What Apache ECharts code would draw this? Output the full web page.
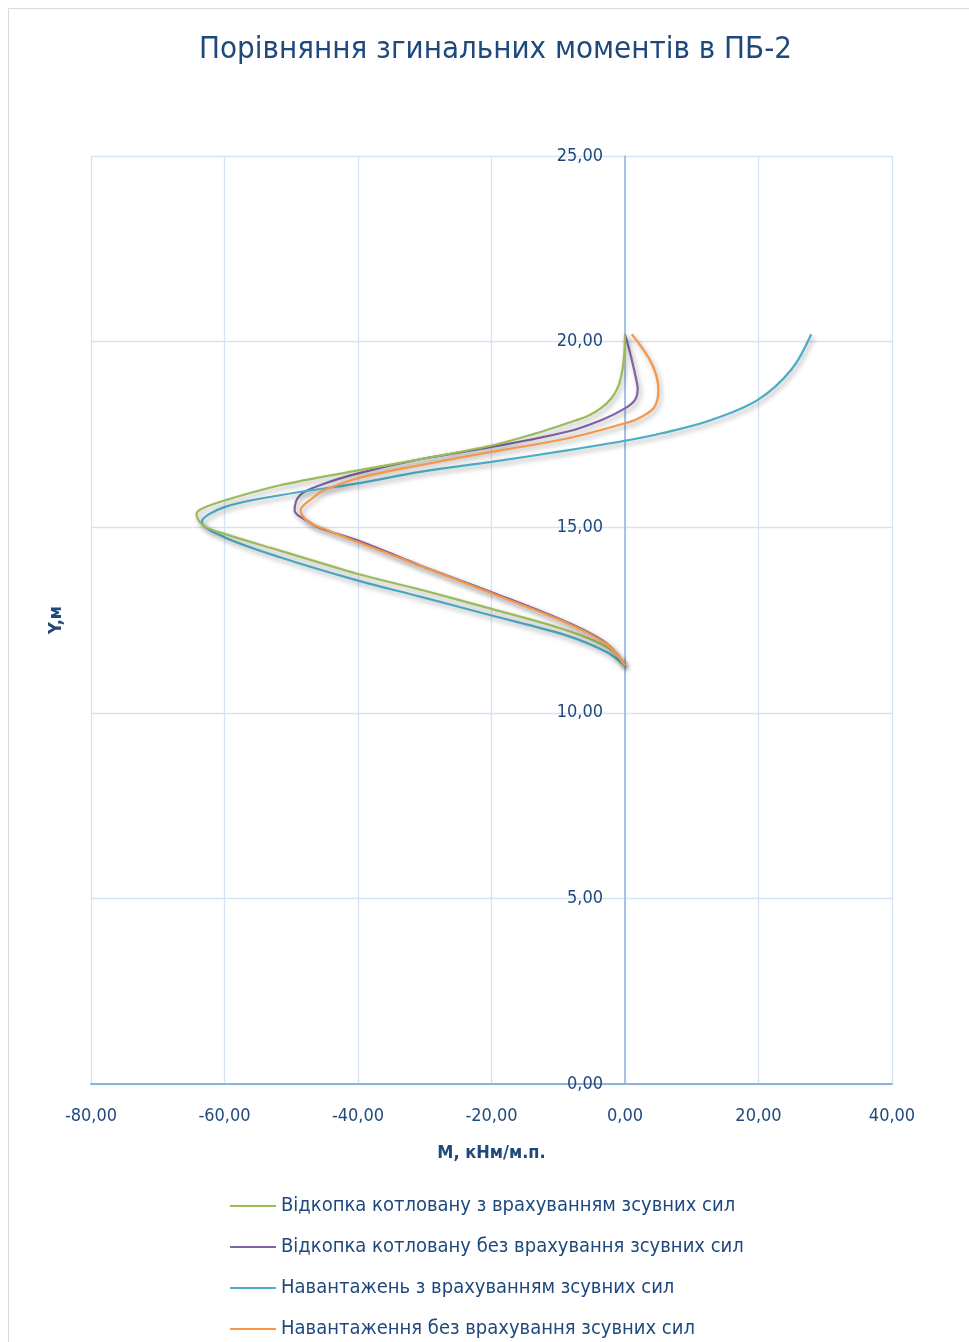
<!DOCTYPE html>
<html>
<head>
<meta charset="utf-8">
<script src="https://cdn.jsdelivr.net/npm/echarts@6/dist/echarts.min.js"></script>
<style>
html,body{margin:0;padding:0;background:#fff;}
#chart{width:969px;height:1342px;}
</style>
</head>
<body>
<div id="chart"></div>
<script>
// ---- data (M, кНм/м.п. ; Y, м) ----
const titleText = 'Порівняння згинальних моментів в ПБ-2';
const xName = 'М, кНм/м.п.';
const yName = 'Y,м';
const seriesNames = [
  'Відкопка котловану з врахуванням зсувних сил',
  'Відкопка котловану без врахування зсувних сил',
  'Навантажень з врахуванням зсувних сил',
  'Навантаження без врахування зсувних сил'
];
const seriesColors = ['#9BBB59', '#8064A2', '#4BACC6', '#F79646'];

const greenM = [0.0, -0.1, -0.4, -1.0, -2.0, -3.5, -5.5, -8.7, -13.5, -20.0, -30.7, -40.0, -51.7, -60.0, -63.4, -64.2, -63.2, -60.0, -51.7, -40.0, -30.7, -20.0, -8.7, -2.7, -0.5, 0.0];
const greenY = [20.2, 19.7, 19.23, 18.8, 18.48, 18.22, 18.0, 17.8, 17.52, 17.2, 16.83, 16.53, 16.13, 15.72, 15.5, 15.35, 15.05, 14.82, 14.37, 13.74, 13.32, 12.8, 12.22, 11.77, 11.42, 11.27];

const purpleM = [0.0, 0.9, 1.8, 1.9, 1.5, 0.0, -3.5, -8.7, -20.0, -30.7, -40.0, -45.7, -48.7, -49.5, -47.7, -45.7, -40.0, -33.7, -30.7, -20.0, -8.7, -2.7, 0.0];
const purpleY = [20.2, 19.6, 18.88, 18.72, 18.43, 18.2, 17.89, 17.57, 17.16, 16.83, 16.45, 16.13, 15.86, 15.45, 15.18, 14.98, 14.64, 14.19, 13.97, 13.25, 12.44, 11.86, 11.27];

const blueM = [27.9, 24.9, 19.9, 12.95, 5.5, 0.0, -8.7, -20.0, -30.7, -40.0, -51.7, -60.0, -63.4, -60.0, -51.7, -40.0, -30.7, -20.0, -8.7, -2.7, 0.0];
const blueY = [20.2, 19.24, 18.43, 17.89, 17.53, 17.33, 17.07, 16.76, 16.49, 16.18, 15.86, 15.54, 15.14, 14.73, 14.19, 13.56, 13.13, 12.62, 12.08, 11.63, 11.27];

const orangeM = [1.0, 4.0, 5.0, 4.9, 4.25, 2.0, 0.0, -8.7, -20.0, -30.7, -40.0, -45.0, -46.7, -48.6, -47.5, -45.7, -40.0, -33.7, -20.0, -8.7, -2.7, 0.0];
const orangeY = [20.2, 19.41, 18.7, 18.48, 18.2, 17.93, 17.8, 17.39, 17.03, 16.67, 16.32, 16.0, 15.8, 15.45, 15.15, 15.0, 14.6, 14.17, 13.22, 12.42, 11.84, 11.27];

const xMin = -80, xMax = 40, xStep = 20;
const yMin = 0, yMax = 25, yStep = 5;

const seriesM = [greenM, purpleM, blueM, orangeM];
const seriesY = [greenY, purpleY, blueY, orangeY];

const textColor = '#1F497D';
const fontFam = '"DejaVu Sans Condensed", "DejaVu Sans", sans-serif';
const fmt = v => v.toFixed(2).replace('.', ',');

const gridLeft = 91, gridRight = 77;
const plotWidth = 969 - gridLeft - gridRight;
// y axis sits at M = 0
const yAxisOffset = -plotWidth * (0 - xMin) / (xMax - xMin);

const chart = echarts.init(document.getElementById('chart'), null, {renderer: 'canvas'});
const option = {
  backgroundColor: '#ffffff',
  animation: false,
  title: {
    text: titleText,
    left: 199,
    top: 34,
    padding: 0,
    textStyle: {color: textColor, fontSize: 31, fontWeight: 'normal', fontFamily: fontFam}
  },
  graphic: [{
    type: 'rect',
    shape: {x: 8.5, y: 8.5, width: 1000, height: 1400},
    style: {fill: 'none', stroke: '#D9D9D9', lineWidth: 1},
    silent: true
  }],
  grid: {left: gridLeft, right: gridRight, top: 156, bottom: 258, containLabel: false, outerBoundsMode: 'none'},
  xAxis: {
    type: 'value',
    min: xMin, max: xMax, interval: xStep,
    name: xName,
    nameLocation: 'middle',
    nameGap: 60,
    nameTextStyle: {color: textColor, fontSize: 18, fontWeight: 'bold', fontFamily: fontFam},
    axisLine: {onZero: false, lineStyle: {color: '#8DB3E2', width: 2}},
    axisTick: {show: false},
    axisLabel: {formatter: fmt, color: textColor, fontSize: 18, margin: 23, fontFamily: fontFam},
    splitLine: {show: true, lineStyle: {color: '#D6E3F4', width: 1.3}}
  },
  yAxis: {
    type: 'value',
    position: 'left',
    offset: yAxisOffset,
    min: yMin, max: yMax, interval: yStep,
    name: yName,
    nameLocation: 'middle',
    nameGap: 560,
    nameRotate: 90,
    nameTextStyle: {color: textColor, fontSize: 18, fontWeight: 'bold', fontFamily: fontFam},
    axisLine: {onZero: false, lineStyle: {color: '#8DB3E2', width: 1.5}},
    axisTick: {show: false},
    axisLabel: {formatter: fmt, color: textColor, fontSize: 18, margin: 22, fontFamily: fontFam},
    splitLine: {show: true, lineStyle: {color: '#D6E3F4', width: 1.3}}
  },
  legend: {
    orient: 'vertical',
    left: 230,
    top: 1195,
    padding: 0,
    itemWidth: 46,
    itemHeight: 14,
    itemGap: 19,
    icon: 'path://M0,6 L46,6 L46,8 L0,8 Z',
    textStyle: {color: textColor, fontSize: 20, fontFamily: fontFam, lineHeight: 22},
    data: seriesNames
  },
  series: seriesNames.map((name, i) => ({
    name: name,
    type: 'line',
    smooth: 0.35,
    symbol: 'none',
    showSymbol: false,
    data: seriesM[i].map((m, j) => [m, seriesY[i][j]]),
    itemStyle: {color: seriesColors[i]},
    lineStyle: {
      color: seriesColors[i], width: 2.2,
      shadowColor: 'rgba(0,0,0,0.35)', shadowBlur: 5, shadowOffsetX: 2, shadowOffsetY: 3
    },
    z: 2 + (i === 0 ? 3 : i)
  }))
};
chart.setOption(option);
</script>
</body>
</html>
